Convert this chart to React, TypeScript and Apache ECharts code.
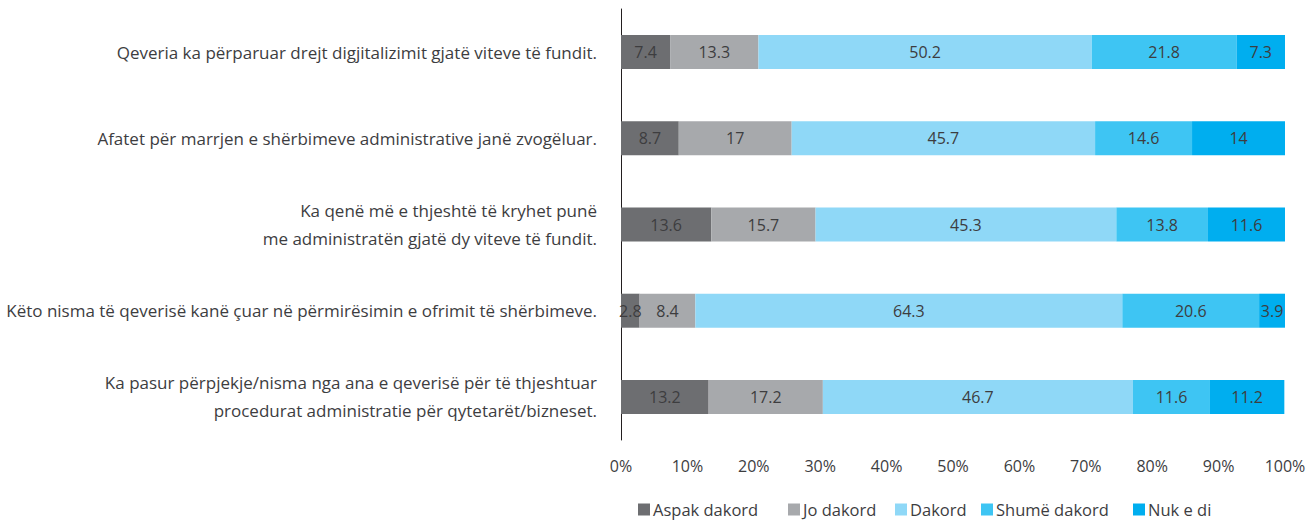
import React, { useEffect, useRef } from "react";
import * as echarts from "echarts";

const categories = [
  "Qeveria ka përparuar drejt digjitalizimit gjatë viteve të fundit.",
  "Afatet për marrjen e shërbimeve administrative janë zvogëluar.",
  "Ka qenë më e thjeshtë të kryhet punë\nme administratën gjatë dy viteve të fundit.",
  "Këto nisma të qeverisë kanë çuar në përmirësimin e ofrimit të shërbimeve.",
  "Ka pasur përpjekje/nisma nga ana e qeverisë për të thjeshtuar\nprocedurat administratie për qytetarët/bizneset.",
];

const seriesNames = ["Aspak dakord", "Jo dakord", "Dakord", "Shumë dakord", "Nuk e di"];
const aspakDakord = [7.4, 8.7, 13.6, 2.8, 13.2];
const joDakord = [13.3, 17, 15.7, 8.4, 17.2];
const dakord = [50.2, 45.7, 45.3, 64.3, 46.7];
const shumeDakord = [21.8, 14.6, 13.8, 20.6, 11.6];
const nukEDi = [7.3, 14, 11.6, 3.9, 11.2];
const seriesValues = [aspakDakord, joDakord, dakord, shumeDakord, nukEDi];
const colors = ["#6d6e71", "#a7a9ac", "#8fd8f7", "#3ec5f3", "#00aeef"];
const legendLefts = [633, 783, 890, 976, 1128];

const FONT = "'Open Sans', 'Noto Sans', sans-serif";
const TEXT = "#3d3d3f";

export default function App() {
  const ref = useRef<HTMLDivElement>(null);
  useEffect(() => {
    if (!ref.current) return;
    document.body.style.margin = "0";
    const chart = echarts.init(ref.current, undefined, { renderer: "svg" });
    chart.setOption({
      animation: false,
      textStyle: { fontFamily: FONT },
      grid: { left: 621, right: 24, top: 9, bottom: 82, outerBoundsMode: "none", containLabel: false },
      legend: seriesNames.map((name, i) => ({
        top: 496,
        left: legendLefts[i],
        itemWidth: 12,
        itemHeight: 12,
        icon: "rect",
        textStyle: { fontFamily: FONT, fontSize: 16.5, color: TEXT, padding: [0, 0, 0, -2] },
        data: [name],
      })),
      xAxis: {
        type: "value",
        min: 0,
        max: 100,
        interval: 10,
        axisLine: { show: false },
        axisTick: { show: false },
        splitLine: { show: false },
        axisLabel: {
          formatter: "{value}%",
          margin: 18,
          color: TEXT,
          fontSize: 16,
          fontFamily: FONT,
        },
      },
      yAxis: {
        type: "category",
        inverse: true,
        data: categories,
        axisLine: { show: true, lineStyle: { color: "#231f20", width: 1 } },
        axisTick: { show: false },
        axisLabel: {
          margin: 24,
          align: "right",
          color: TEXT,
          fontSize: 17,
          lineHeight: 28,
          fontFamily: FONT,
        },
      },
      series: seriesNames.map((name, i) => ({
        name,
        type: "bar",
        stack: "total",
        barWidth: 34,
        data: seriesValues[i],
        itemStyle: { color: colors[i] },
        label: {
          show: true,
          position: "inside",
          color: TEXT,
          fontSize: 16,
          fontFamily: FONT,
          formatter: (p: any) => String(p.value),
        },
      })),
    });
    return () => chart.dispose();
  }, []);
  return <div ref={ref} style={{ width: 1309, height: 522 }} />;
}
